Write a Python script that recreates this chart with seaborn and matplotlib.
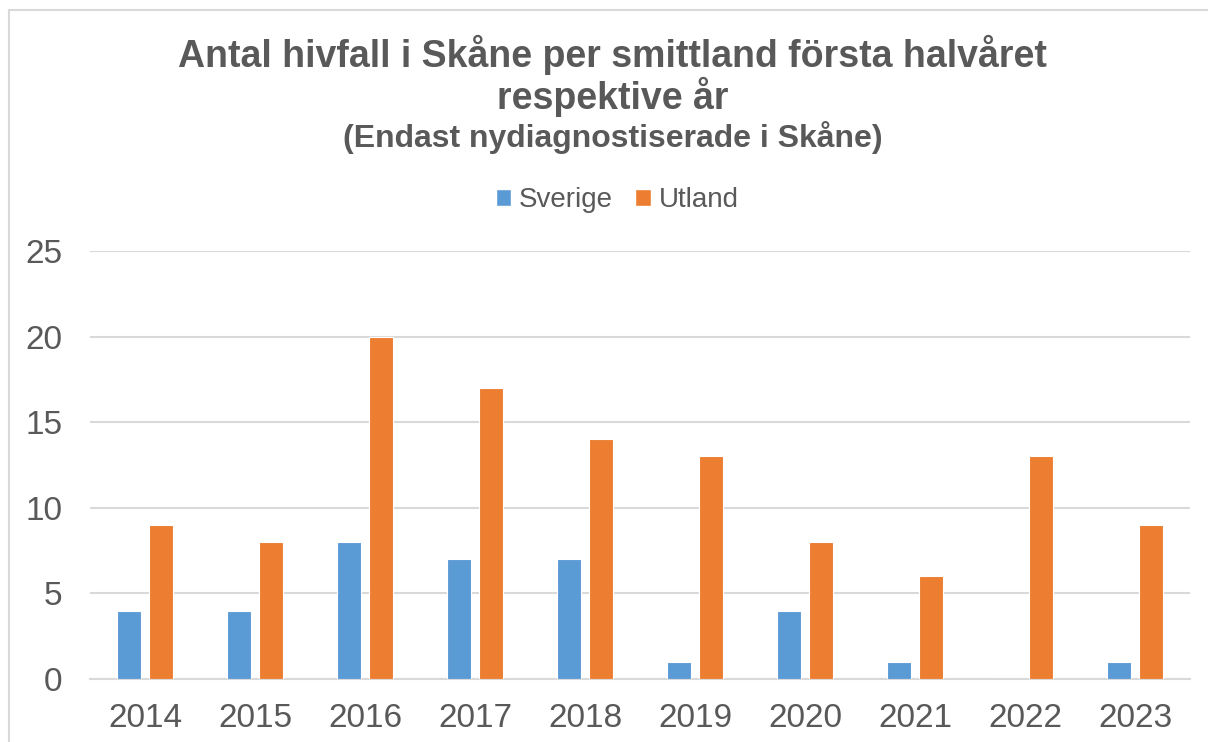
import matplotlib
matplotlib.use("Agg")
import matplotlib.pyplot as plt
import seaborn as sns
import pandas as pd
from matplotlib.patches import Rectangle

years = ["2014", "2015", "2016", "2017", "2018", "2019", "2020", "2021", "2022", "2023"]
sverige = [4, 4, 8, 7, 7, 1, 4, 1, 0, 1]
utland = [9, 8, 20, 17, 14, 13, 8, 6, 13, 9]
series_names = ["Sverige", "Utland"]
colors = ["#5B9BD5", "#ED7D31"]

df = pd.DataFrame({
    "year": years * 2,
    "value": sverige + utland,
    "series": [series_names[0]] * len(years) + [series_names[1]] * len(years),
})

sns.set_theme(style="white")
plt.rcParams["font.family"] = ["Liberation Sans", "DejaVu Sans"]

fig = plt.figure(figsize=(12.08, 7.42), dpi=100)
ax = fig.add_axes([90 / 1208, 1 - 679 / 742, 1100 / 1208, (679 - 251) / 742])

sns.barplot(data=df, x="year", y="value", hue="series", palette=colors,
            saturation=1, width=0.58, gap=0.22, ax=ax, edgecolor="white",
            linewidth=0.8, legend=False, zorder=3)

ax.set_ylim(0, 25)
ax.set_xlim(-0.5, len(years) - 0.5)
ax.set_yticks([0, 5, 10, 15, 20, 25])
ax.yaxis.grid(True, color="#d9d9d9", linewidth=1.5, zorder=0)
ax.set_axisbelow(True)
for s in ["top", "right", "left"]:
    ax.spines[s].set_visible(False)
ax.spines["bottom"].set_color("#d9d9d9")
ax.spines["bottom"].set_linewidth(1.5)
ax.set_xlabel("")
ax.set_ylabel("")
ax.tick_params(axis="x", length=0, pad=17, labelsize=24, labelcolor="#595959")
ax.tick_params(axis="y", length=0, pad=20, labelsize=24, labelcolor="#595959")

tc = "#595959"
fig.text(0.507, 1 - 55 / 742, "Antal hivfall i Skåne per smittland första halvåret",
         ha="center", va="center", fontsize=27, fontweight="bold", color=tc)
fig.text(0.507, 1 - 97 / 742, "respektive år",
         ha="center", va="center", fontsize=27, fontweight="bold", color=tc)
fig.text(0.507, 1 - 137 / 742, "(Endast nydiagnostiserade i Skåne)",
         ha="center", va="center", fontsize=23, fontweight="bold", color=tc)

handles = [Rectangle((0, 0), 1, 1, facecolor=c) for c in colors]
fig.legend(handles, series_names, loc="center", bbox_to_anchor=(0.511, 1 - 200 / 742),
           ncol=2, frameon=False, fontsize=20, handlelength=0.55, handleheight=0.55,
           handletextpad=0.3, columnspacing=0.8, labelcolor=tc)

fig.add_artist(Rectangle((9 / 1208, -0.1), 1.2, 1.1 - 10 / 742,
                         transform=fig.transFigure, fill=False,
                         edgecolor="#d9d9d9", linewidth=1.5))

fig.savefig("out.png", dpi=100)
